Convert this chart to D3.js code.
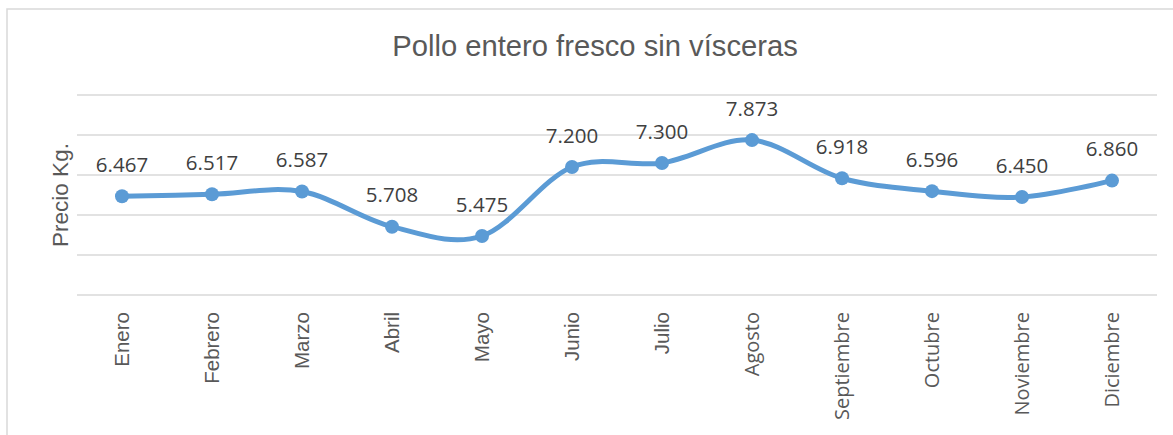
<!DOCTYPE html>
<html>
<head>
<meta charset="utf-8">
<script src="https://cdn.jsdelivr.net/npm/d3@7"></script>
<style>
  html, body { margin: 0; padding: 0; background: #ffffff; }
  svg { display: block; }
</style>
</head>
<body>
<svg id="chart" width="1173" height="435"></svg>
<script>
// Monthly price of fresh whole chicken (per kg)
const months = ["Enero", "Febrero", "Marzo", "Abril", "Mayo", "Junio", "Julio",
                "Agosto", "Septiembre", "Octubre", "Noviembre", "Diciembre"];
const prices = [6.467, 6.517, 6.587, 5.708, 5.475, 7.200, 7.300,
                7.873, 6.918, 6.596, 6.450, 6.860];
const gridValues = [4, 5, 6, 7, 8, 9];
const chartTitle = "Pollo entero fresco sin vísceras";
const yTitle = "Precio Kg.";

const svg = d3.select("#chart");
const plot = { left: 77, right: 1157, top: 95, bottom: 295 };

// Outer chart frame (runs past the window on the right and bottom)
svg.append("rect")
  .attr("x", 7).attr("y", 9)
  .attr("width", 1250).attr("height", 500)
  .attr("fill", "#ffffff")
  .attr("stroke", "#d9d9d9")
  .attr("stroke-width", 1.5);

const x = d3.scaleBand()
  .domain(months)
  .range([plot.left, plot.right]);

const y = d3.scaleLinear()
  .domain([4, 9])
  .range([plot.bottom, plot.top]);

// Horizontal gridlines
svg.append("g")
  .selectAll("line")
  .data(gridValues)
  .join("line")
  .attr("x1", plot.left).attr("x2", plot.right)
  .attr("y1", d => y(d)).attr("y2", d => y(d))
  .attr("stroke", "#d9d9d9")
  .attr("stroke-width", 1.5);

// Title
svg.append("text")
  .attr("x", 595).attr("y", 56)
  .attr("text-anchor", "middle")
  .attr("font-family", "'Liberation Sans', Arial, sans-serif")
  .attr("font-size", 29.2)
  .attr("fill", "#595959")
  .text(chartTitle);

// Y axis title
svg.append("text")
  .attr("transform", "translate(68,195) rotate(-90)")
  .attr("text-anchor", "middle")
  .attr("font-family", "'Liberation Sans', Arial, sans-serif")
  .attr("font-size", 22.5)
  .attr("fill", "#595959")
  .text(yTitle);

// Category axis labels, rotated
const xAxis = d3.axisBottom(x).tickSize(0).tickPadding(0);
const gx = svg.append("g")
  .attr("transform", `translate(0,${plot.bottom})`)
  .call(xAxis);
gx.select(".domain").remove();
gx.selectAll(".tick text")
  .attr("transform", "translate(0,17) rotate(-90)")
  .attr("x", 0).attr("y", 0)
  .attr("dy", "0.35em")
  .attr("text-anchor", "end")
  .attr("font-family", (d, i) => i < 7 ? "'Liberation Sans', Arial, sans-serif" : "'Open Sans', sans-serif")
  .attr("font-size", (d, i) => i < 7 ? 20.5 : 20)
  .attr("fill", "#595959");

const cx = d => x(d) + x.bandwidth() / 2;
const series = months.map((m, i) => ({ month: m, value: prices[i] }));

// Smoothed price line
const line = d3.line()
  .x(d => cx(d.month))
  .y(d => y(d.value))
  .curve(d3.curveCardinal.tension(0));

svg.append("path")
  .datum(series)
  .attr("d", line)
  .attr("fill", "none")
  .attr("stroke", "#5b9bd5")
  .attr("stroke-width", 5)
  .attr("stroke-linecap", "round")
  .attr("stroke-linejoin", "round");

// Markers
svg.append("g")
  .selectAll("circle")
  .data(series)
  .join("circle")
  .attr("cx", d => cx(d.month))
  .attr("cy", d => y(d.value))
  .attr("r", 7)
  .attr("fill", "#5b9bd5");

// Value labels
svg.append("g")
  .selectAll("text")
  .data(series)
  .join("text")
  .attr("x", d => cx(d.month))
  .attr("y", d => y(d.value) - 24.5)
  .attr("text-anchor", "middle")
  .attr("font-family", "'Open Sans', sans-serif")
  .attr("font-size", 20.5)
  .attr("fill", "#404040")
  .text(d => d3.format(".3f")(d.value));
</script>
</body>
</html>
